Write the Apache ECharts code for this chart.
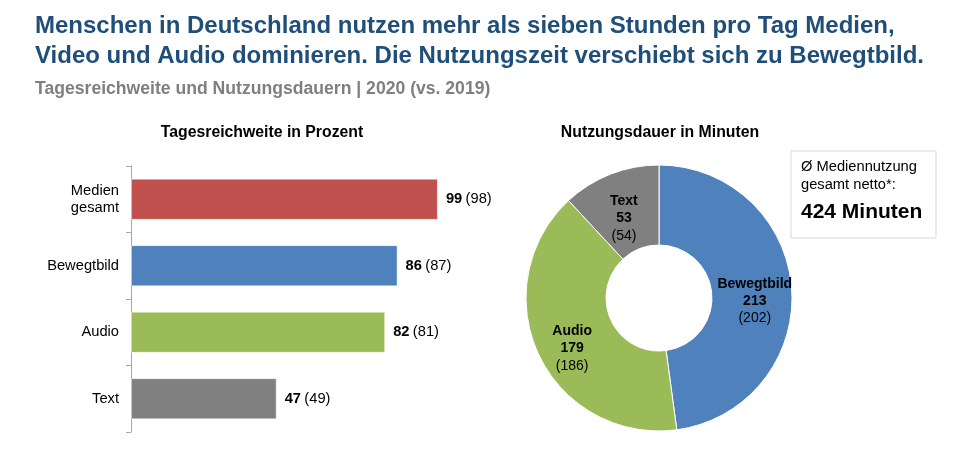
<!DOCTYPE html>
<html>
<head>
<meta charset="utf-8">
<script src="https://cdn.jsdelivr.net/npm/echarts@6/dist/echarts.min.js"></script>
<style>html,body{margin:0;padding:0;background:#fff;}#c{width:960px;height:474px;}</style>
</head>
<body>
<div id="c"></div>
<script>
const barCategories = ['Medien\ngesamt', 'Bewegtbild', 'Audio', 'Text'];
const reach2020 = [99, 86, 82, 47];
const reach2019 = [98, 87, 81, 49];
const barColors = ['#C0504D', '#4F81BD', '#9BBB59', '#808080'];

const pieNames = ['Bewegtbild', 'Audio', 'Text'];
const minutes2020 = [213, 179, 53];
const minutes2019 = [202, 186, 54];
const pieColors = ['#4F81BD', '#9BBB59', '#808080'];

const FONT = '"Liberation Sans", Arial, sans-serif';
const chart = echarts.init(document.getElementById('c'));

chart.setOption({
  backgroundColor: '#fff',
  textStyle: { fontFamily: FONT },
  title: [
    {
      text: 'Menschen in Deutschland nutzen mehr als sieben Stunden pro Tag Medien,\nVideo und Audio dominieren. Die Nutzungszeit verschiebt sich zu Bewegtbild.',
      left: 35, top: 11, padding: 0,
      textStyle: { fontFamily: FONT, fontSize: 24, fontWeight: 'bold', color: '#1F4E79', lineHeight: 30 }
    },
    {
      text: 'Tagesreichweite und Nutzungsdauern | 2020 (vs. 2019)',
      left: 35, top: 80, padding: 0,
      textStyle: { fontFamily: FONT, fontSize: 17.6, fontWeight: 'bold', color: '#7F7F7F' }
    },
    {
      text: 'Tagesreichweite in Prozent',
      left: 262, top: 125, padding: 0, textAlign: 'center',
      textStyle: { fontFamily: FONT, fontSize: 15.8, fontWeight: 'bold', color: '#000' }
    },
    {
      text: 'Nutzungsdauer in Minuten',
      left: 660, top: 125, padding: 0, textAlign: 'center',
      textStyle: { fontFamily: FONT, fontSize: 15.8, fontWeight: 'bold', color: '#000' }
    }
  ],
  graphic: [
    { type: 'rect', shape: { x: 791, y: 151, width: 145, height: 87 },
      style: { fill: '#fff', stroke: '#D9D9D9', lineWidth: 1 } },
    { type: 'text', x: 801, y: 158,
      style: { text: 'Ø Mediennutzung\ngesamt netto*:', font: '14.7px ' + FONT, fill: '#000', lineHeight: 18 } },
    { type: 'text', x: 801, y: 202,
      style: { text: '424 Minuten', font: 'bold 21px ' + FONT, fill: '#000' } }
  ],
  grid: { left: 131, top: 166, width: 310, height: 266, containLabel: false },
  xAxis: { type: 'value', min: 0, max: 100, show: false },
  yAxis: {
    type: 'category', data: barCategories, inverse: true,
    axisLine: { show: true, lineStyle: { color: '#A6A6A6', width: 1 } },
    axisTick: { show: true, length: 5, lineStyle: { color: '#A6A6A6' } },
    axisLabel: { fontFamily: FONT, fontSize: 14.7, color: '#000', margin: 12, lineHeight: 17 }
  },
  series: [
    {
      type: 'bar',
      data: reach2020.map((v, i) => ({ value: v, itemStyle: { color: barColors[i] } })),
      barCategoryGap: '38%',
      itemStyle: { borderColor: 'rgba(255,255,255,0.5)', borderWidth: 1 },
      label: {
        show: true, position: 'right', distance: 8,
        formatter: p => '{b|' + p.value + '} {n|(' + reach2019[p.dataIndex] + ')}',
        rich: {
          b: { fontFamily: FONT, fontSize: 14.7, fontWeight: 'bold', color: '#000' },
          n: { fontFamily: FONT, fontSize: 14.7, color: '#000' }
        }
      },
      silent: true
    },
    {
      type: 'pie',
      center: [659, 298],
      radius: [53, 133],
      startAngle: 90,
      clockwise: true,
      silent: true,
      itemStyle: { borderColor: '#fff', borderWidth: 1 },
      data: pieNames.map((n, i) => ({ name: n, value: minutes2020[i], itemStyle: { color: pieColors[i] } })),
      label: {
        show: true, position: 'inside',
        padding: [20, 0, 0, 0],
        formatter: p => '{t|' + p.name + '}\n{t|' + p.value + '}\n{n|(' + minutes2019[p.dataIndex] + ')}',
        rich: {
          t: { fontFamily: FONT, fontSize: 14, fontWeight: 'bold', color: '#000', lineHeight: 17, align: 'center' },
          n: { fontFamily: FONT, fontSize: 14, color: '#000', lineHeight: 18, align: 'center' }
        }
      },
      labelLine: { show: false }
    }
  ]
});
</script>
</body>
</html>
